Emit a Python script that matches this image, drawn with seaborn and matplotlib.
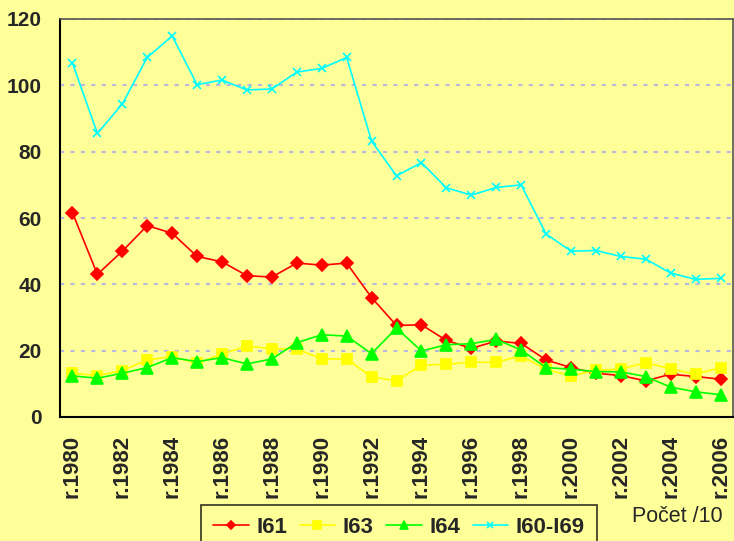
import pandas as pd
import seaborn as sns
import matplotlib.pyplot as plt
from matplotlib.ticker import MultipleLocator

# values
years = list(range(1980, 2007))
i61 = [61.6, 43.0, 50.0, 57.7, 55.4, 48.4, 46.8, 42.6, 42.2, 46.4, 45.8, 46.4, 36.0, 27.6,
       27.8, 23.1, 20.7, 22.9, 22.2, 17.2, 14.9, 13.2, 12.5, 10.9, 12.9, 12.2, 11.4]
i63 = [13.2, 12.5, 14.0, 17.2, 18.2, 16.2, 19.0, 21.4, 20.6, 20.5, 17.5, 17.5, 12.1, 10.9,
       15.6, 15.9, 16.5, 16.5, 18.4, 14.4, 12.4, 14.1, 14.4, 16.4, 14.5, 12.9, 14.9]
i64 = [12.4, 11.7, 13.2, 14.9, 17.9, 16.7, 17.9, 16.0, 17.5, 22.4, 24.8, 24.4, 19.1, 26.8,
       19.9, 21.8, 22.1, 23.4, 20.2, 14.9, 14.4, 13.7, 13.6, 12.2, 9.0, 7.6, 6.7]
i60_69 = [106.7, 85.5, 94.4, 108.4, 114.9, 100.2, 101.6, 98.6, 98.9, 104.0, 105.1, 108.4, 83.2, 72.7,
          76.7, 69.1, 66.9, 69.2, 70.0, 55.2, 50.0, 50.2, 48.4, 47.6, 43.4, 41.5, 41.8]
series_names = ["I61", "I63", "I64", "I60-I69"]
tick_years = list(range(1980, 2007, 2))

df = pd.DataFrame({"Year": years, "I61": i61, "I63": i63, "I64": i64, "I60-I69": i60_69})
long_df = df.melt(id_vars="Year", var_name="Series", value_name="Count")

bg = "#FFFF99"
sns.set_style("white")
plt.rcParams["font.family"] = ["Liberation Sans", "DejaVu Sans"]

fig = plt.figure(figsize=(7.34, 5.41), dpi=100, facecolor=bg)
ax = fig.add_axes([60 / 734, 1 - 417 / 541, 673 / 734, 398 / 541])
ax.set_facecolor(bg)

styles = {
    "I61": ("#FF0000", "D", 6),
    "I63": ("#FFFF00", "s", 7),
    "I64": ("#00FF00", "^", 8),
    "I60-I69": ("#00FFFF", "x", 6),
}
for name in series_names:
    color, marker, ms = styles[name]
    sns.lineplot(data=long_df[long_df["Series"] == name], x="Year", y="Count", ax=ax,
                 color=color, marker=marker, markersize=ms, markeredgecolor=color,
                 markeredgewidth=1.2, linewidth=1.2, label=name, zorder=3)

ax.set_xlim(1979.5, 2006.5)
ax.set_ylim(0, 120)
ax.yaxis.set_major_locator(MultipleLocator(20))
ax.grid(axis="y", color="#B8B8DC", linestyle=(0, (2, 3)), linewidth=1.5)
ax.set_axisbelow(True)

ax.set_xticks(tick_years)
ax.set_xticklabels([f"r.{y}" for y in tick_years], rotation=90, fontsize=16, fontweight="bold")
ax.set_xticks([y - 0.5 for y in years] + [2006.5], minor=True)
ax.tick_params(axis="x", which="major", length=0, pad=13)
ax.tick_params(axis="x", which="minor", length=6, width=1.2, direction="out", color="black")
ax.tick_params(axis="y", length=6, width=1.2, direction="out", labelsize=15, pad=7)
for lbl in ax.get_yticklabels():
    lbl.set_fontweight("bold")

ax.set_xlabel("")
ax.set_ylabel("")
for side in ["left", "bottom"]:
    ax.spines[side].set_color("black")
    ax.spines[side].set_linewidth(1.5)
for side in ["top", "right"]:
    ax.spines[side].set_color("#555555")
    ax.spines[side].set_linewidth(1.2)
    ax.spines[side].set_linestyle((0, (2, 1)))

handles, labels = ax.get_legend_handles_labels()
ax.get_legend().remove()
leg = fig.legend(handles, labels, loc="upper left", bbox_to_anchor=(201 / 734, 1 - 505 / 541),
                 borderaxespad=0, ncol=4, frameon=True, fancybox=False, edgecolor="black",
                 facecolor=bg, prop={"weight": "bold", "size": 16}, handlelength=1.6,
                 columnspacing=0.55, handletextpad=0.35, borderpad=0.55, markerscale=0.75)
leg.get_frame().set_linewidth(1.2)

fig.text(723 / 734, 1 - 516 / 541, "Počet /10", ha="right", va="center", fontsize=15.5)

fig.savefig("out.png", dpi=100, facecolor=bg)
